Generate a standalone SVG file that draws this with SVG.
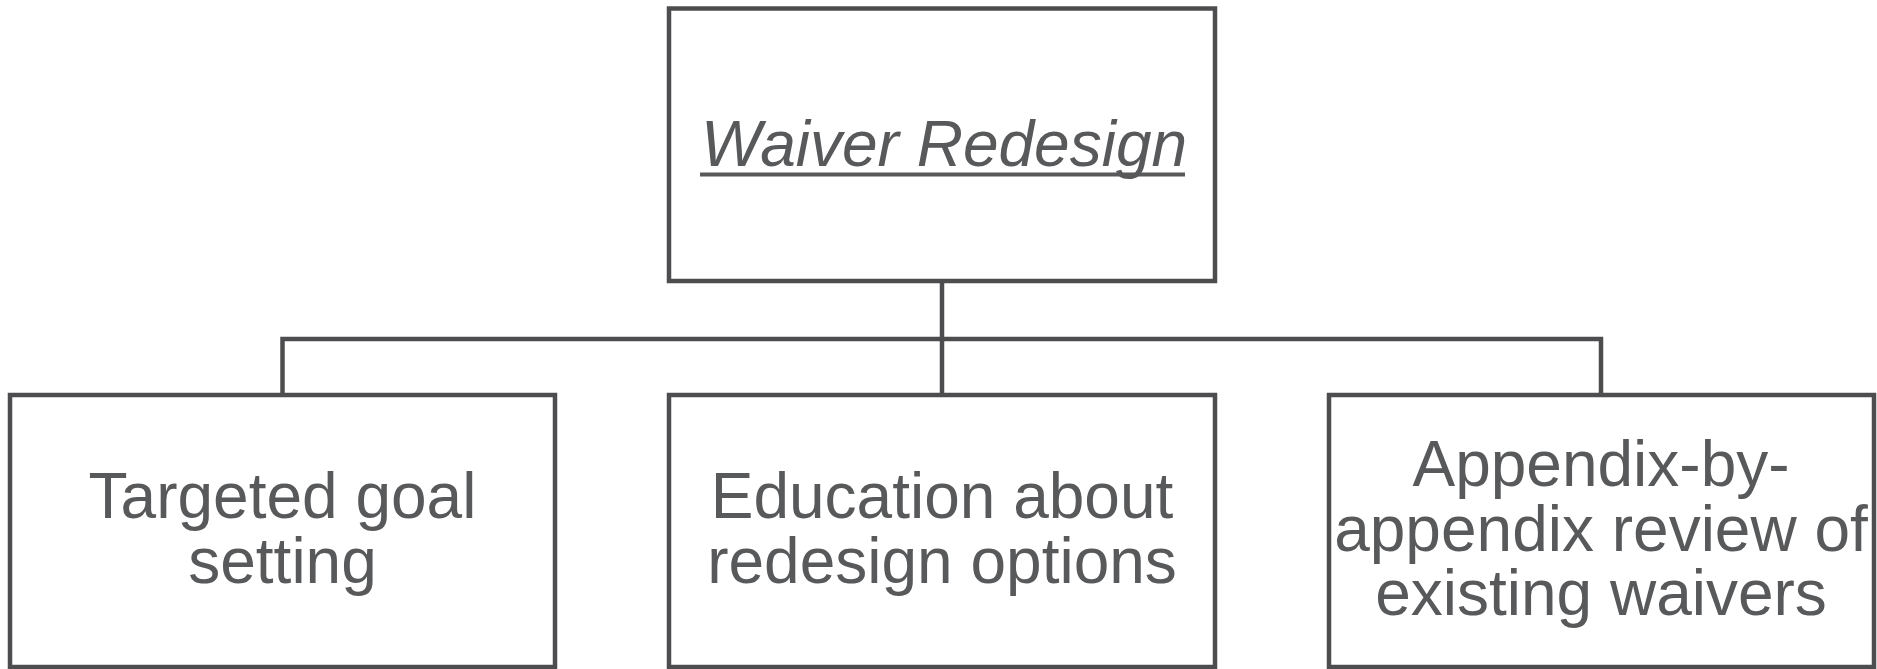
<svg xmlns="http://www.w3.org/2000/svg" width="1877" height="669" viewBox="0 0 1877 669">
  <style>
    .box { fill: #ffffff; stroke: #4d4d4f; stroke-width: 4.5; }
    .wire { fill: none; stroke: #4d4d4f; stroke-width: 4.5; }
    .label { font-family: "Liberation Sans", Arial, sans-serif; font-size: 64px; fill: #58595b; text-anchor: middle; }
    .title { font-style: italic; }
    .rule { stroke: #58595b; stroke-width: 4; }
  </style>
  <rect width="1877" height="669" fill="#ffffff"/>

  <!-- tree connectors -->
  <g id="connectors">
    <path class="wire" d="M942 281 V339"/>
    <path class="wire" d="M282.5 395 V339 H1601 V395"/>
    <path class="wire" d="M942 339 V395"/>
  </g>

  <g id="node-waiver-redesign">
    <rect class="box" x="669" y="8.5" width="546" height="272.5"/>
    <text class="label title" x="944" y="166">Waiver Redesign</text>
    <!-- continuous underline under the title -->
    <line class="rule" x1="700" y1="174.5" x2="1185" y2="174.5"/>
  </g>

  <g id="node-goal-setting">
    <rect class="box" x="10" y="395" width="545" height="272"/>
    <text class="label" x="282.5" y="518">Targeted goal</text>
    <text class="label" x="282.5" y="583">setting</text>
  </g>

  <g id="node-education">
    <rect class="box" x="669" y="395" width="546" height="272"/>
    <text class="label" x="942" y="518">Education about</text>
    <text class="label" x="942" y="583">redesign options</text>
  </g>

  <g id="node-appendix-review">
    <rect class="box" x="1329" y="395" width="545" height="272"/>
    <text class="label" x="1601" y="486">Appendix-by-</text>
    <text class="label" x="1601" y="551">appendix review of</text>
    <text class="label" x="1601" y="615">existing waivers</text>
  </g>
</svg>
